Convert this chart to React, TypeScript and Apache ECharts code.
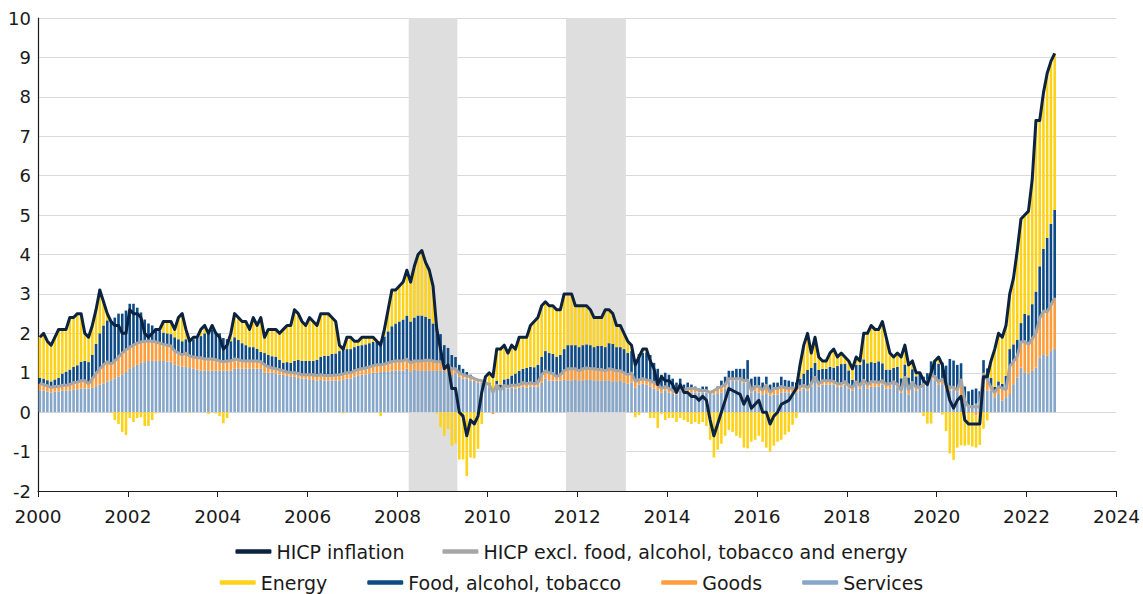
import React, { useEffect, useRef } from "react";
import * as echarts from "echarts";

// Monthly data, January 2000 – August 2022 (percentage points / %)
const START_YEAR = 2000;
const END_YEAR = 2024; // x axis end
const TICK_STEP_YEARS = 2;

const hicp = [
  1.9, 2.0, 1.8, 1.7, 1.9, 2.1, 2.1, 2.1, 2.4, 2.4, 2.5, 2.5,
  2.0, 1.9, 2.2, 2.6, 3.1, 2.8, 2.5, 2.3, 2.2, 2.2, 2.0, 2.0,
  2.6, 2.5, 2.5, 2.4, 2.0, 1.9, 2.0, 2.1, 2.1, 2.3, 2.3, 2.3,
  2.1, 2.4, 2.5, 2.1, 1.8, 1.9, 1.9, 2.1, 2.2, 2.0, 2.2, 2.0,
  1.9, 1.6, 1.7, 2.0, 2.5, 2.4, 2.3, 2.3, 2.1, 2.4, 2.2, 2.4,
  1.9, 2.1, 2.1, 2.1, 2.0, 2.1, 2.2, 2.2, 2.6, 2.5, 2.3, 2.2,
  2.4, 2.3, 2.2, 2.5, 2.5, 2.5, 2.4, 2.3, 1.7, 1.6, 1.9, 1.9,
  1.8, 1.8, 1.9, 1.9, 1.9, 1.9, 1.8, 1.7, 2.1, 2.6, 3.1, 3.1,
  3.2, 3.3, 3.6, 3.3, 3.7, 4.0, 4.1, 3.8, 3.6, 3.2, 2.1, 1.6,
  1.1, 1.2, 0.6, 0.6, 0.0, -0.1, -0.6, -0.2, -0.3, -0.1, 0.5, 0.9,
  1.0, 0.9, 1.6, 1.6, 1.7, 1.5, 1.7, 1.6, 1.9, 1.9, 1.9, 2.2,
  2.3, 2.4, 2.7, 2.8, 2.7, 2.7, 2.6, 2.6, 3.0, 3.0, 3.0, 2.7,
  2.7, 2.7, 2.7, 2.6, 2.4, 2.4, 2.4, 2.6, 2.6, 2.5, 2.2, 2.2,
  2.0, 1.8, 1.7, 1.2, 1.4, 1.6, 1.6, 1.3, 1.1, 0.7, 0.9, 0.8,
  0.8, 0.7, 0.5, 0.7, 0.5, 0.5, 0.4, 0.4, 0.3, 0.4, 0.3, -0.2,
  -0.6, -0.3, 0.0, 0.3, 0.6, 0.55, 0.5, 0.45, 0.2, 0.4, 0.1, 0.2,
  0.3, 0.0, 0.0, -0.3, -0.1, 0.0, 0.2, 0.25, 0.3, 0.45, 0.6, 1.2,
  1.7, 2.0, 1.5, 1.9, 1.4, 1.3, 1.3, 1.5, 1.6, 1.4, 1.5, 1.4,
  1.3, 1.1, 1.4, 1.3, 2.0, 2.0, 2.2, 2.1, 2.1, 2.3, 1.9, 1.5,
  1.4, 1.5, 1.4, 1.7, 1.2, 1.3, 1.0, 1.0, 0.8, 0.7, 1.0, 1.3,
  1.4, 1.2, 0.7, 0.3, 0.1, 0.3, 0.4, -0.2, -0.3, -0.3, -0.3, -0.3,
  0.9, 0.9, 1.3, 1.6, 2.0, 1.9, 2.2, 3.0, 3.4, 4.1, 4.9, 5.0,
  5.1, 5.9, 7.4, 7.4, 8.1, 8.6, 8.9, 9.1,
];

const hicpCore = [
  0.72, 0.7, 0.67, 0.63, 0.65, 0.65, 0.68, 0.68, 0.7, 0.75, 0.76, 0.8,
  0.8, 0.72, 0.85, 0.98, 1.1, 1.2, 1.28, 1.22, 1.3, 1.4, 1.5, 1.58,
  1.65, 1.7, 1.75, 1.78, 1.8, 1.8, 1.8, 1.78, 1.75, 1.72, 1.7, 1.68,
  1.55, 1.5, 1.45, 1.5, 1.42, 1.4, 1.38, 1.38, 1.35, 1.35, 1.35, 1.33,
  1.3, 1.28, 1.3, 1.3, 1.35, 1.33, 1.3, 1.3, 1.3, 1.3, 1.3, 1.28,
  1.2, 1.15, 1.12, 1.1, 1.08, 1.05, 1.02, 1.0, 1.0, 0.98, 0.95, 0.95,
  0.95, 0.95, 0.93, 0.95, 0.93, 0.93, 0.93, 0.94, 0.95, 0.97, 1.0, 1.0,
  1.05, 1.08, 1.1, 1.12, 1.15, 1.18, 1.2, 1.2, 1.22, 1.25, 1.28, 1.3,
  1.3, 1.3, 1.35, 1.25, 1.3, 1.3, 1.3, 1.32, 1.32, 1.3, 1.28, 1.28,
  1.2, 1.18, 1.1, 1.1, 1.0, 0.95, 0.92, 0.9, 0.85, 0.82, 0.8, 0.75,
  0.7, 0.5, 0.7, 0.55, 0.68, 0.65, 0.68, 0.68, 0.7, 0.75, 0.72, 0.75,
  0.72, 0.75, 0.95, 1.05, 1.0, 0.98, 0.9, 0.95, 1.05, 1.1, 1.1, 1.1,
  1.05, 1.1, 1.12, 1.1, 1.1, 1.08, 1.08, 1.05, 1.1, 1.08, 1.05, 1.05,
  1.0, 0.95, 1.0, 0.78, 0.82, 0.85, 0.82, 0.8, 0.75, 0.7, 0.6, 0.65,
  0.6, 0.55, 0.5, 0.65, 0.55, 0.6, 0.6, 0.6, 0.55, 0.55, 0.55, 0.5,
  0.55, 0.6, 0.65, 0.7, 0.85, 0.85, 0.85, 0.85, 0.8, 0.82, 0.55, 0.65,
  0.65, 0.55, 0.7, 0.5, 0.6, 0.6, 0.65, 0.62, 0.6, 0.62, 0.6, 0.65,
  0.68, 0.62, 0.72, 0.9, 0.72, 0.8, 0.8, 0.8, 0.78, 0.72, 0.72, 0.78,
  0.68, 0.62, 0.78, 0.68, 0.82, 0.7, 0.77, 0.77, 0.75, 0.8, 0.7, 0.72,
  0.77, 0.7, 0.56, 0.91, 0.56, 0.77, 0.63, 0.63, 0.7, 0.77, 0.91, 0.91,
  0.77, 0.84, 0.7, 0.63, 0.63, 0.56, 0.84, 0.28, 0.14, 0.14, 0.14, 0.14,
  0.99, 0.82, 0.63, 0.49, 0.65, 0.61, 0.57, 1.16, 1.28, 1.42, 1.78, 1.79,
  1.72, 1.86, 2.01, 2.38, 2.56, 2.55, 2.72, 2.9,
];

const services = [
  0.55, 0.55, 0.52, 0.5, 0.52, 0.52, 0.55, 0.55, 0.55, 0.58, 0.58, 0.6,
  0.6, 0.6, 0.62, 0.66, 0.7, 0.73, 0.78, 0.81, 0.86, 0.9, 0.96, 1.02,
  1.1, 1.15, 1.2, 1.25, 1.27, 1.3, 1.3, 1.3, 1.3, 1.3, 1.28, 1.28,
  1.2, 1.18, 1.15, 1.15, 1.12, 1.1, 1.08, 1.05, 1.05, 1.05, 1.05, 1.05,
  1.05, 1.05, 1.05, 1.05, 1.1, 1.1, 1.1, 1.1, 1.1, 1.1, 1.1, 1.1,
  1.0, 1.0, 1.0, 0.98, 0.95, 0.95, 0.92, 0.9, 0.9, 0.88, 0.85, 0.85,
  0.82, 0.82, 0.8, 0.82, 0.8, 0.8, 0.8, 0.8, 0.8, 0.82, 0.85, 0.85,
  0.9, 0.92, 0.95, 0.95, 0.98, 1.0, 1.0, 1.02, 1.02, 1.02, 1.05, 1.05,
  1.05, 1.05, 1.1, 1.02, 1.08, 1.05, 1.05, 1.05, 1.05, 1.05, 1.05, 1.05,
  1.05, 1.0, 0.95, 1.0, 0.9, 0.85, 0.85, 0.8, 0.8, 0.75, 0.75, 0.72,
  0.62, 0.55, 0.65, 0.55, 0.62, 0.6, 0.62, 0.6, 0.62, 0.65, 0.62, 0.65,
  0.65, 0.65, 0.75, 0.85, 0.8, 0.8, 0.8, 0.8, 0.82, 0.8, 0.8, 0.82,
  0.8, 0.8, 0.82, 0.82, 0.8, 0.8, 0.8, 0.8, 0.8, 0.78, 0.78, 0.8,
  0.75, 0.72, 0.75, 0.62, 0.7, 0.72, 0.7, 0.65, 0.6, 0.55, 0.5, 0.55,
  0.5, 0.48, 0.45, 0.55, 0.48, 0.5, 0.5, 0.5, 0.5, 0.5, 0.5, 0.5,
  0.45, 0.48, 0.5, 0.6, 0.78, 0.8, 0.8, 0.8, 0.75, 0.75, 0.5, 0.55,
  0.5, 0.45, 0.48, 0.42, 0.45, 0.45, 0.5, 0.5, 0.5, 0.5, 0.5, 0.55,
  0.6, 0.55, 0.65, 0.8, 0.65, 0.7, 0.7, 0.7, 0.7, 0.65, 0.65, 0.7,
  0.6, 0.55, 0.7, 0.6, 0.72, 0.6, 0.65, 0.65, 0.65, 0.7, 0.6, 0.6,
  0.72, 0.63, 0.5, 0.86, 0.45, 0.72, 0.54, 0.59, 0.68, 0.68, 0.86, 0.81,
  0.69, 0.71, 0.57, 0.55, 0.58, 0.51, 0.42, 0.31, 0.17, 0.17, 0.22, 0.27,
  0.59, 0.55, 0.55, 0.38, 0.46, 0.29, 0.38, 0.46, 0.71, 0.88, 1.13, 1.01,
  0.97, 1.05, 1.13, 1.39, 1.47, 1.43, 1.55, 1.6,
];

const goods = [
  0.17, 0.15, 0.15, 0.13, 0.13, 0.13, 0.13, 0.13, 0.15, 0.17, 0.18, 0.2,
  0.2, 0.12, 0.23, 0.32, 0.4, 0.47, 0.5, 0.41, 0.44, 0.5, 0.54, 0.56,
  0.55, 0.55, 0.55, 0.53, 0.53, 0.5, 0.5, 0.48, 0.45, 0.42, 0.42, 0.4,
  0.35, 0.32, 0.3, 0.35, 0.3, 0.3, 0.3, 0.33, 0.3, 0.3, 0.3, 0.28,
  0.25, 0.23, 0.25, 0.25, 0.25, 0.23, 0.2, 0.2, 0.2, 0.2, 0.2, 0.18,
  0.2, 0.15, 0.12, 0.12, 0.13, 0.1, 0.1, 0.1, 0.1, 0.1, 0.1, 0.1,
  0.13, 0.13, 0.13, 0.13, 0.13, 0.13, 0.13, 0.14, 0.15, 0.15, 0.15, 0.15,
  0.15, 0.16, 0.15, 0.17, 0.17, 0.18, 0.2, 0.18, 0.2, 0.23, 0.23, 0.25,
  0.25, 0.25, 0.25, 0.23, 0.22, 0.25, 0.25, 0.27, 0.27, 0.25, 0.23, 0.23,
  0.15, 0.18, 0.15, 0.1, 0.1, 0.1, 0.07, 0.1, 0.05, 0.07, 0.05, 0.03,
  0.08, -0.05, 0.05, 0.0, 0.06, 0.05, 0.06, 0.08, 0.08, 0.1, 0.1, 0.1,
  0.07, 0.1, 0.2, 0.2, 0.2, 0.18, 0.1, 0.15, 0.23, 0.3, 0.3, 0.28,
  0.25, 0.3, 0.3, 0.28, 0.3, 0.28, 0.28, 0.25, 0.3, 0.3, 0.27, 0.25,
  0.25, 0.23, 0.25, 0.16, 0.12, 0.13, 0.12, 0.15, 0.15, 0.15, 0.1, 0.1,
  0.1, 0.07, 0.05, 0.1, 0.07, 0.1, 0.1, 0.1, 0.05, 0.05, 0.05, 0.0,
  0.1, 0.12, 0.15, 0.1, 0.07, 0.05, 0.05, 0.05, 0.05, 0.07, 0.05, 0.1,
  0.15, 0.1, 0.22, 0.08, 0.15, 0.15, 0.15, 0.12, 0.1, 0.12, 0.1, 0.1,
  0.08, 0.07, 0.07, 0.1, 0.07, 0.1, 0.1, 0.1, 0.08, 0.07, 0.07, 0.08,
  0.08, 0.07, 0.08, 0.08, 0.1, 0.1, 0.12, 0.12, 0.1, 0.1, 0.1, 0.12,
  0.05, 0.07, 0.06, 0.05, 0.11, 0.05, 0.09, 0.04, 0.02, 0.09, 0.05, 0.1,
  0.08, 0.13, 0.13, 0.08, 0.05, 0.05, 0.42, -0.03, -0.03, -0.03, -0.08, -0.13,
  0.4, 0.27, 0.08, 0.11, 0.19, 0.32, 0.19, 0.7, 0.57, 0.54, 0.65, 0.78,
  0.75, 0.81, 0.88, 0.99, 1.09, 1.12, 1.17, 1.3,
];

const food = [
  0.15, 0.15, 0.14, 0.15, 0.18, 0.22, 0.3, 0.35, 0.38, 0.4, 0.43, 0.48,
  0.5, 0.55, 0.6, 0.75, 0.9, 1.0, 1.05, 1.1, 1.1, 1.1, 1.0, 1.0,
  1.1, 1.05, 0.9, 0.75, 0.55, 0.45, 0.4, 0.35, 0.32, 0.3, 0.3, 0.3,
  0.35, 0.35, 0.35, 0.35, 0.4, 0.45, 0.5, 0.55, 0.65, 0.7, 0.75, 0.7,
  0.7, 0.6, 0.55, 0.5, 0.55, 0.5, 0.45, 0.4, 0.35, 0.35, 0.3, 0.25,
  0.3, 0.3, 0.3, 0.3, 0.25, 0.2, 0.25, 0.25, 0.3, 0.35, 0.35, 0.35,
  0.35, 0.35, 0.4, 0.45, 0.5, 0.5, 0.55, 0.55, 0.6, 0.66, 0.6, 0.6,
  0.6, 0.6, 0.6, 0.6, 0.6, 0.6, 0.6, 0.6, 0.7, 0.8, 0.9, 0.95,
  1.0, 1.05, 1.1, 1.05, 1.1, 1.15, 1.15, 1.1, 1.05, 0.95, 0.85, 0.7,
  0.5, 0.45, 0.35, 0.3, 0.2, 0.15, 0.1, 0.05, 0.02, 0.01, 0.0, 0.0,
  0.05, 0.05, 0.1, 0.15, 0.15, 0.2, 0.25, 0.3, 0.35, 0.35, 0.4, 0.4,
  0.42, 0.45, 0.45, 0.5, 0.5, 0.5, 0.5, 0.5, 0.55, 0.6, 0.6, 0.6,
  0.6, 0.6, 0.6, 0.6, 0.55, 0.6, 0.6, 0.6, 0.65, 0.65, 0.6, 0.6,
  0.6, 0.55, 0.55, 0.55, 0.65, 0.65, 0.7, 0.65, 0.5, 0.4, 0.35, 0.35,
  0.35, 0.3, 0.25, 0.2, 0.15, 0.15, 0.1, 0.05, 0.05, 0.1, 0.1, 0.0,
  0.0, 0.05, 0.15, 0.2, 0.2, 0.2, 0.25, 0.25, 0.3, 0.5, 0.3, 0.25,
  0.25, 0.2, 0.2, 0.2, 0.15, 0.15, 0.25, 0.2, 0.2, 0.15, 0.15, 0.2,
  0.3, 0.45, 0.4, 0.35, 0.35, 0.3, 0.3, 0.35, 0.35, 0.45, 0.5, 0.45,
  0.38, 0.2, 0.42, 0.52, 0.52, 0.54, 0.5, 0.48, 0.54, 0.44, 0.38, 0.36,
  0.35, 0.45, 0.3, 0.3, 0.32, 0.32, 0.28, 0.35, 0.2, 0.22, 0.38, 0.4,
  0.46, 0.42, 0.48, 0.72, 0.68, 0.64, 0.4, 0.34, 0.36, 0.4, 0.38, 0.26,
  0.33, 0.29, 0.24, 0.15, 0.13, 0.11, 0.35, 0.44, 0.44, 0.42, 0.48, 0.7,
  0.74, 0.88, 1.05, 1.32, 1.58, 1.87, 2.06, 2.23,
];

const energy = [
  1.03, 1.15, 0.99, 0.92, 1.07, 1.23, 1.12, 1.07, 1.32, 1.25, 1.31, 1.22,
  0.7, 0.63, 0.75, 0.87, 1.1, 0.6, 0.17, -0.02, -0.2, -0.3, -0.5, -0.58,
  -0.15, -0.25, -0.15, -0.13, -0.35, -0.35, -0.2, -0.03, 0.03, 0.28, 0.3, 0.32,
  0.2, 0.55, 0.7, 0.25, -0.02, 0.05, 0.02, 0.17, 0.2, -0.05, 0.1, -0.03,
  -0.1, -0.28, -0.15, 0.2, 0.6, 0.57, 0.55, 0.6, 0.45, 0.75, 0.6, 0.87,
  0.4, 0.65, 0.68, 0.7, 0.67, 0.85, 0.93, 0.95, 1.3, 1.17, 1.0, 0.9,
  1.1, 1.0, 0.87, 1.1, 1.07, 1.07, 0.92, 0.81, 0.15, -0.03, 0.3, 0.3,
  0.15, 0.12, 0.2, 0.18, 0.15, 0.12, 0.0, -0.1, 0.18, 0.55, 0.92, 0.85,
  0.9, 0.95, 1.15, 1.0, 1.3, 1.55, 1.65, 1.38, 1.23, 0.95, -0.03, -0.38,
  -0.6, -0.43, -0.85, -0.8, -1.2, -1.2, -1.62, -1.15, -1.17, -0.93, -0.3, 0.15,
  0.25, 0.35, 0.8, 0.9, 0.87, 0.65, 0.77, 0.62, 0.85, 0.8, 0.78, 1.05,
  1.16, 1.2, 1.3, 1.25, 1.2, 1.22, 1.2, 1.15, 1.4, 1.3, 1.3, 1.0,
  1.05, 1.0, 0.98, 0.9, 0.75, 0.72, 0.72, 0.95, 0.85, 0.77, 0.55, 0.55,
  0.4, 0.3, 0.15, -0.13, -0.07, 0.1, 0.08, -0.15, -0.15, -0.4, -0.05, -0.2,
  -0.15, -0.15, -0.25, -0.15, -0.2, -0.25, -0.3, -0.25, -0.3, -0.25, -0.35, -0.7,
  -1.15, -0.95, -0.8, -0.6, -0.45, -0.5, -0.6, -0.65, -0.9, -0.92, -0.75, -0.7,
  -0.6, -0.75, -0.9, -1.0, -0.85, -0.75, -0.7, -0.57, -0.5, -0.32, -0.15, 0.35,
  0.72, 0.93, 0.38, 0.65, 0.33, 0.2, 0.2, 0.35, 0.47, 0.23, 0.28, 0.17,
  0.24, 0.28, 0.2, 0.1, 0.66, 0.76, 0.93, 0.85, 0.81, 1.06, 0.82, 0.42,
  0.28, 0.35, 0.54, 0.49, 0.32, 0.21, 0.09, 0.02, -0.1, -0.29, -0.29, -0.01,
  0.17, -0.06, -0.48, -1.05, -1.21, -0.9, -0.84, -0.82, -0.8, -0.84, -0.82, -0.7,
  -0.42, -0.21, 0.43, 0.96, 1.22, 1.18, 1.28, 1.4, 1.68, 2.26, 2.64, 2.51,
  2.64, 3.16, 4.34, 3.7, 3.96, 4.18, 4.12, 3.97,
];

// Recession periods (start month inclusive, end month exclusive)
const recessions = [
  ["2008-04", "2009-05"],
  ["2011-10", "2013-02"],
];

const COLORS = {
  hicp: "#0b2341",
  core: "#a6a6a6",
  energy: "#ffd21a",
  food: "#0e4a86",
  goods: "#ff9d3c",
  services: "#86a6ca",
  shade: "#dedede",
  text: "#1a1a1a",
  axis: "#1c1c1c",
  grid: "#dadada",
};

const FONT = "DejaVu Sans";

function monthIndex(s: string): number {
  const [y, m] = s.split("-").map(Number);
  return (y - START_YEAR) * 12 + (m - 1);
}

const TOTAL_MONTHS = (END_YEAR - START_YEAR) * 12;
const monthLabels = Array.from({ length: TOTAL_MONTHS }, (_, i) => {
  const y = START_YEAR + Math.floor(i / 12);
  const m = (i % 12) + 1;
  return `${y}-${m < 10 ? "0" + m : m}`;
});

export default function App() {
  const ref = useRef<HTMLDivElement>(null);

  useEffect(() => {
    document.body.style.margin = "0";
    if (!ref.current) return;
    const chart = echarts.init(ref.current, undefined, { renderer: "svg" });

    const barSeries = (name: string, vals: number[], color: string) => ({
      name,
      type: "bar",
      stack: "contrib",
      xAxisIndex: 0,
      barWidth: 2.6,
      z: 2,
      itemStyle: { color },
      emphasis: { disabled: true },
      data: vals,
    });

    const legendText = { fontFamily: FONT, fontSize: 19, color: COLORS.text };

    const option: any = {
      animation: false,
      textStyle: { fontFamily: FONT, color: COLORS.text },
      grid: { left: 38, right: 26, top: 18, bottom: 103, containLabel: false },
      xAxis: [
        {
          type: "category",
          data: monthLabels,
          boundaryGap: true,
          show: false,
        },
        {
          type: "value",
          position: "bottom",
          min: 0,
          max: TOTAL_MONTHS,
          interval: TICK_STEP_YEARS * 12,
          axisLine: { onZero: false, lineStyle: { color: COLORS.axis, width: 1.2 } },
          axisTick: { show: true, length: 6, lineStyle: { color: COLORS.axis } },
          splitLine: { show: false },
          axisLabel: {
            fontFamily: FONT,
            fontSize: 18.5,
            color: COLORS.text,
            margin: 16,
            formatter: (v: number) => String(START_YEAR + v / 12),
          },
        },
      ],
      yAxis: {
        type: "value",
        min: -2,
        max: 10,
        interval: 1,
        axisLine: { show: true, lineStyle: { color: COLORS.axis, width: 1.2 } },
        axisTick: { show: false },
        splitLine: { show: true, lineStyle: { color: COLORS.grid, width: 1.2 } },
        axisLabel: { fontFamily: FONT, fontSize: 18, color: COLORS.text, margin: 7 },
      },
      legend: [
        {
          top: 537,
          left: "center",
          icon: "roundRect",
          itemWidth: 36,
          itemHeight: 4.5,
          itemGap: 38,
          textStyle: legendText,
          data: ["HICP inflation", "HICP excl. food, alcohol, tobacco and energy"],
        },
        {
          top: 568,
          left: "center",
          icon: "roundRect",
          itemWidth: 36,
          itemHeight: 4.5,
          itemGap: 40,
          textStyle: legendText,
          data: ["Energy", "Food, alcohol, tobacco", "Goods", "Services"],
        },
      ],
      series: [
        {
          name: "recession",
          type: "custom",
          xAxisIndex: 1,
          z: 1,
          silent: true,
          data: recessions.map(([a, b]) => [monthIndex(a), monthIndex(b)]),
          encode: { x: [0, 1] },
          renderItem: (params: any, api: any) => {
            const p0 = api.coord([api.value(0), 10]);
            const p1 = api.coord([api.value(1), -2]);
            return {
              type: "rect",
              shape: { x: p0[0], y: p0[1], width: p1[0] - p0[0], height: p1[1] - p0[1] },
              style: { fill: COLORS.shade },
            };
          },
        },
        barSeries("Services", services, COLORS.services),
        barSeries("Goods", goods, COLORS.goods),
        barSeries("Food, alcohol, tobacco", food, COLORS.food),
        barSeries("Energy", energy, COLORS.energy),
        {
          name: "HICP excl. food, alcohol, tobacco and energy",
          type: "line",
          xAxisIndex: 0,
          z: 3,
          showSymbol: false,
          symbol: "none",
          lineStyle: { color: COLORS.core, width: 3 },
          itemStyle: { color: COLORS.core },
          data: hicpCore,
        },
        {
          name: "HICP inflation",
          type: "line",
          xAxisIndex: 0,
          z: 4,
          showSymbol: false,
          symbol: "none",
          lineStyle: { color: COLORS.hicp, width: 3, join: "round" },
          itemStyle: { color: COLORS.hicp },
          data: hicp,
        },
      ],
    };

    chart.setOption(option);
    return () => chart.dispose();
  }, []);

  return <div ref={ref} style={{ width: 1143, height: 594 }} />;
}
